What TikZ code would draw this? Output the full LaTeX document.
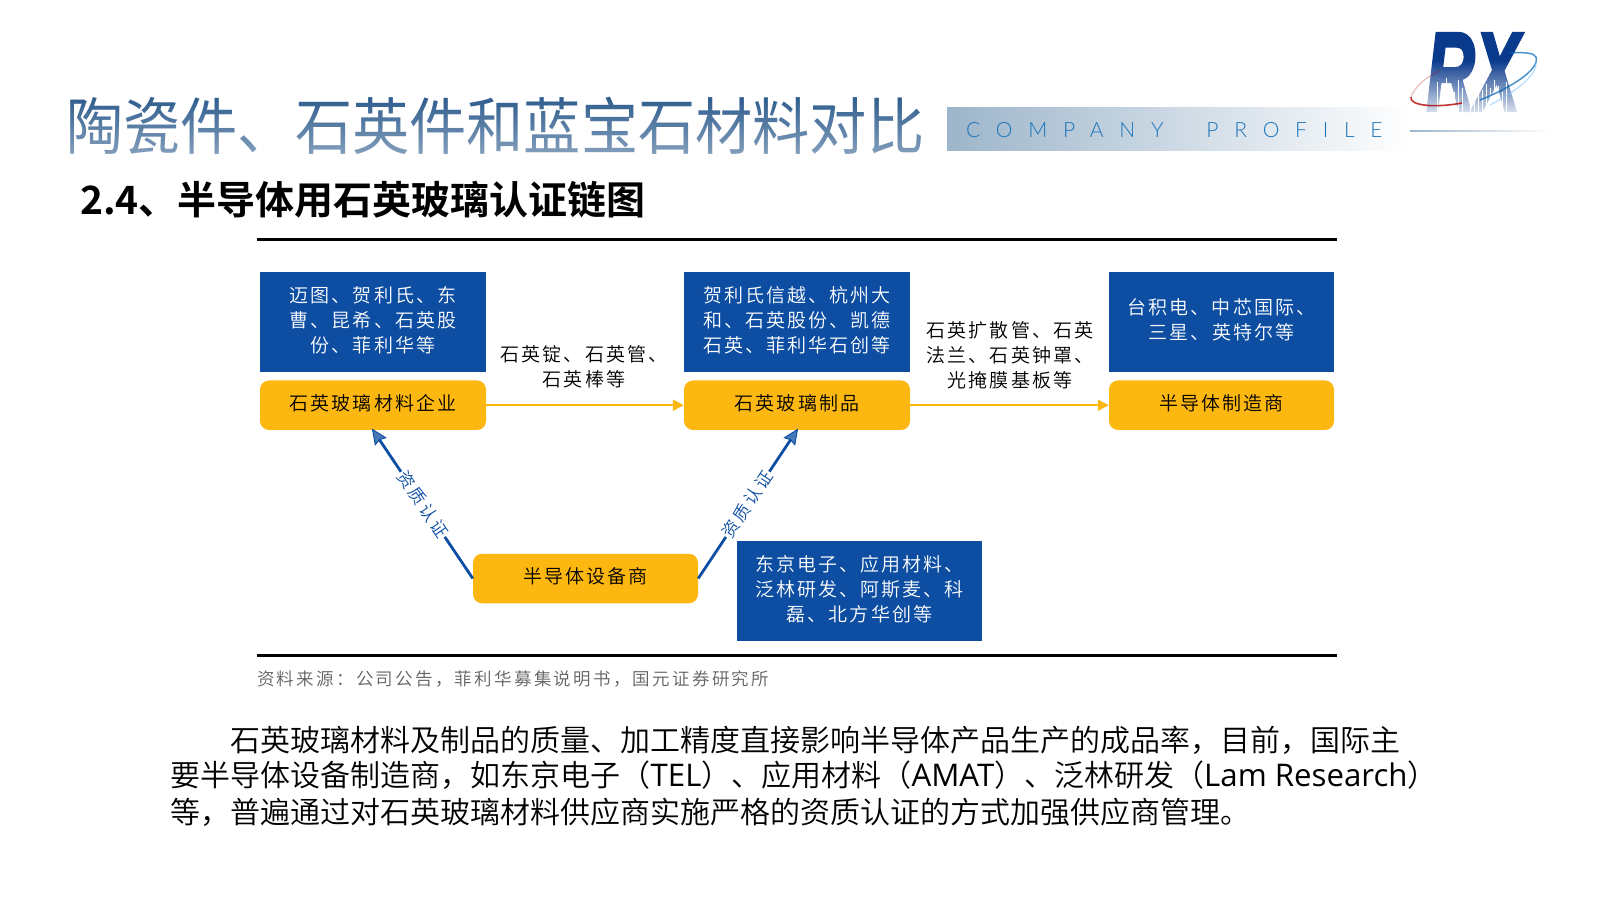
\documentclass[tikz,border=0pt]{standalone}
\usepackage{fontspec}
\usetikzlibrary{arrows.meta,fadings,positioning}
\setmainfont{Noto Sans CJK SC}
\newfontfamily\cjklight{Noto Sans CJK SC}[UprightFont=* DemiLight]
\newfontfamily\cjkspaced{Noto Sans CJK SC}[UprightFont=* DemiLight,LetterSpace=11]
\newfontfamily\cjksource{Noto Sans CJK SC}[UprightFont=* DemiLight,LetterSpace=13]
\newfontfamily\cjkcert{Noto Sans CJK SC}[UprightFont=* DemiLight,LetterSpace=16]
\newfontfamily\cjktitle{Noto Sans CJK SC}
\newfontfamily\cjkbold{Noto Sans CJK SC Bold}
\newfontfamily\latinbody{Open Sans}
\newfontfamily\profilefont{Lato}[UprightFont=* Light,LetterSpace=75,WordSpace=2]
\newfontfamily\logofont{Liberation Sans Bold Italic}[FakeBold=3]
\newcommand{\latinpart}[1]{{\latinbody\fontsize{31.2}{36}\selectfont #1}}
\definecolor{boxblue}{HTML}{0D4EA3}
\definecolor{boxyellow}{HTML}{FCB711}
\definecolor{titleblue}{HTML}{27578A}
\definecolor{profileblue}{HTML}{1B75BB}
\definecolor{bandstart}{HTML}{9DB5CA}
\definecolor{logoblue}{HTML}{0A3A8C}
\tikzset{
  x=1pt,y=-1pt,
  bluebox/.style={fill=boxblue,text=white,minimum width=226pt,minimum height=100pt,inner sep=0pt,align=center,text depth=5.5pt,font=\cjkspaced\fontsize{19}{25.2}\selectfont},
  yellowbox/.style={fill=boxyellow,rounded corners=9pt,text=black,minimum width=226pt,minimum height=49.5pt,inner sep=0pt,align=center,text depth=5.5pt,font=\cjkspaced\fontsize{19}{25}\selectfont},
  flowlabel/.style={text=black,align=center,inner sep=0pt,font=\cjkspaced\fontsize{19}{25.2}\selectfont},
  flowarrow/.style={draw=boxyellow,line width=2.2pt,-{Triangle[length=11pt,width=11pt]}},
  certarrow/.style={draw=boxblue,line width=2.8pt,shorten >=-2pt,-{Stealth[length=16pt,width=14pt,inset=2pt,line width=1pt,fill=boxblue!75!white]}},
  certlabel/.style={fill=white,text=boxblue,inner sep=1pt,font=\cjkcert\fontsize{17}{17}\selectfont},
  rulebar/.style={draw=black,line width=3pt},
  bodyline/.style={anchor=west,inner sep=0pt,text=black,font=\cjklight\fontsize{30}{36}\selectfont},
}
\begin{document}
\begin{tikzpicture}
\useasboundingbox (0,0) rectangle (1600,900);
% title
\node[anchor=west,inner sep=0pt,text=titleblue,font=\cjktitle\fontsize{57.2}{60}\selectfont,yscale=1.08] (title) at (66,126) {陶瓷件、石英件和蓝宝石材料对比};
\fill[white,fill opacity=.5,path fading=north] (60,92) rectangle (930,165);
\node[anchor=west,inner sep=0pt,text=black,font=\cjkbold\fontsize{39}{44}\selectfont] (subtitle) at (80,200) {2.4、半导体用石英玻璃认证链图};
% band
\shade[left color=bandstart,right color=white] (947,107) rectangle (1412,150);
\node[anchor=west,inner sep=0pt,text=profileblue,font=\profilefont\fontsize{21}{24}\selectfont] (profile) at (966,130) {COMPANY PROFILE};
\shade[left color=bandstart,right color=white] (1410,130.8) rectangle (1552,131.8);
% logo
\node[inner sep=0pt,text=logoblue,font=\logofont\fontsize{112}{112}\selectfont,xscale=.6] (logo) at (1473,72) {RX};
\fill[white,path fading=north] (1425,60) rectangle (1530,122);
\foreach \xx/\yy in {1437/82,1441/90,1446/78,1450/86,1454/92,1458/80,1462/88,1470/92,1474/84,1478/78,1482/90,1486/84,1490/88,1494/80,1498/86,1502/92,1506/82}
  \draw[white,line width=.9pt] (\xx,\yy) -- (\xx,116);
\draw[red!70!black,opacity=.25,line width=1.3pt] (1440,71) .. controls (1425,77) and (1414,88) .. (1411,97);
\draw[red!70!black,opacity=.8,line width=1.6pt] (1411,97) .. controls (1409,106) and (1436,108) .. (1462,103);
\draw[blue!45!cyan!70!black,opacity=.7,line width=1.5pt] (1480,100) .. controls (1510,88) and (1540,70) .. (1536,57) .. controls (1534,53) and (1525,52) .. (1510,53);
\draw[blue!45!cyan!50!white,opacity=.6,line width=1.2pt] (1490,105) .. controls (1515,92) and (1538,75) .. (1536,62);
% rules
\coordinate (ruleTL) at (257,239.5);
\coordinate (ruleTR) at (1337,239.5);
\coordinate (ruleBL) at (257,655.5);
\coordinate (ruleBR) at (1337,655.5);
\draw[rulebar] (ruleTL) -- (ruleTR);
\draw[rulebar] (ruleBL) -- (ruleBR);
% boxes
\node[bluebox] (b1) at (373,322) {迈图、贺利氏、东\\曹、昆希、石英股\\份、菲利华等};
\node[bluebox] (b2) at (797,322) {贺利氏信越、杭州大\\和、石英股份、凯德\\石英、菲利华石创等};
\node[bluebox,minimum width=225pt] (b3) at (1221.5,322) {台积电、中芯国际、\\三星、英特尔等};
\node[bluebox,minimum width=245pt] (b4) at (859.5,591) {东京电子、应用材料、\\泛林研发、阿斯麦、科\\磊、北方华创等};
\node[yellowbox] (y1) at (373,405.2) {石英玻璃材料企业};
\node[yellowbox] (y2) at (797,405.2) {石英玻璃制品};
\node[yellowbox,minimum width=225pt] (y3) at (1221.5,405.2) {半导体制造商};
\node[yellowbox,minimum width=225pt] (y4) at (585.5,578.5) {半导体设备商};
% arrows
\draw[flowarrow] (y1) -- (y2);
\draw[flowarrow] (y2) -- (y3);
\draw[certarrow] (y4.west) -- node[certlabel,sloped,pos=.5] (c1) {资质认证} (y1.south);
\draw[certarrow] (y4.east) -- node[certlabel,sloped,pos=.5] (c2) {资质认证} (y2.south);
% labels
\node[flowlabel] (l1) at (584,367) {石英锭、石英管、\\石英棒等};
\node[flowlabel] (l2) at (1010,355) {石英扩散管、石英\\法兰、石英钟罩、\\光掩膜基板等};
\node[anchor=west,inner sep=0pt,text=black!62,font=\cjksource\fontsize{17.5}{20}\selectfont] (src) at (257,679) {资料来源：公司公告，菲利华募集说明书，国元证券研究所};
% body
\node[bodyline] (t1) at (230.5,740) {石英玻璃材料及制品的质量、加工精度直接影响半导体产品生产的成品率，目前，国际主};
\node[bodyline] (t2) at (170.5,775.5) {要半导体设备制造商，如东京电子（\latinpart{TEL}）、应用材料（\latinpart{AMAT}）、泛林研发（\latinpart{Lam Research}）};
\node[bodyline] (t3) at (170.5,812) {等，普遍通过对石英玻璃材料供应商实施严格的资质认证的方式加强供应商管理。};
\end{tikzpicture}
\end{document}
